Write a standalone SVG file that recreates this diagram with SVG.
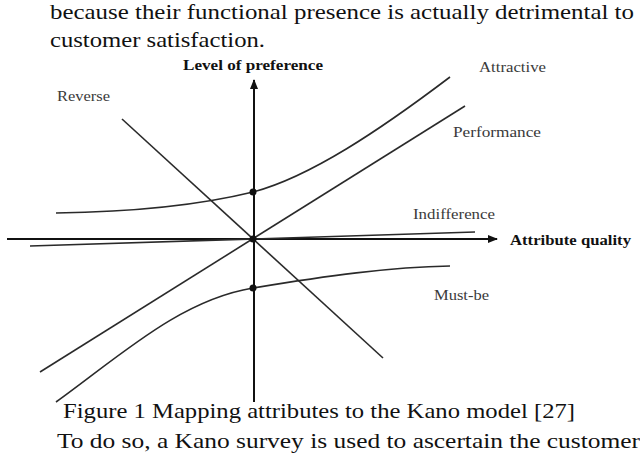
<svg xmlns="http://www.w3.org/2000/svg" width="640" height="466" viewBox="0 0 640 466">
<style>
.txt{font-family:"Liberation Serif","DejaVu Serif",serif;font-size:22px;fill:#111}
.lbl{font-family:"Liberation Serif","DejaVu Serif",serif;font-size:15px;fill:#3a3a3a}
.ax{font-family:"Liberation Serif","DejaVu Serif",serif;font-size:15px;font-weight:bold;fill:#111}
.axis{stroke:#111;stroke-width:2;fill:none}
.ln{stroke:#2a2a2a;stroke-width:1.6;fill:none}
.dot{fill:#111}
</style>
<defs>
<marker id="ah" viewBox="0 0 10 10" refX="9" refY="5" markerWidth="5" markerHeight="5" orient="auto" markerUnits="strokeWidth">
<path d="M0,1 L10,5 L0,9 z" fill="#111"/>
</marker>
</defs>
<rect width="640" height="466" fill="#fff"/>
<text class="txt" x="50" y="19" textLength="584" lengthAdjust="spacingAndGlyphs">because their functional presence is actually detrimental to</text>
<text class="txt" x="50" y="47" textLength="215" lengthAdjust="spacingAndGlyphs">customer satisfaction.</text>
<g id="connectors">
<path class="axis" d="M254,402 L254,80" marker-end="url(#ah)"/>
<path class="axis" d="M7,239 L497,239" marker-end="url(#ah)"/>
<path class="ln" d="M30,246 L475,232"/>
<path class="ln" d="M122,119 L383,358"/>
<path class="ln" d="M40,372 L465,106"/>
<path class="ln" d="M56,213 C130,212 200,205 253,192 C310,177 380,130 450,77"/>
<path class="ln" d="M56,402 C120,356 180,300 253,288 S390,267 450,266"/>
</g>
<g id="dots">
<circle class="dot" cx="253" cy="239" r="3.5"/>
<circle class="dot" cx="253" cy="192" r="3.5"/>
<circle class="dot" cx="253" cy="288" r="3.5"/>
</g>
<g id="axis-y"><text class="ax" x="183" y="70" textLength="140" lengthAdjust="spacingAndGlyphs">Level of preference</text></g>
<g id="axis-x"><text class="ax" x="510" y="245" textLength="121" lengthAdjust="spacingAndGlyphs">Attribute quality</text></g>
<g id="attractive"><text class="lbl" x="479" y="72" textLength="67" lengthAdjust="spacingAndGlyphs">Attractive</text></g>
<g id="reverse"><text class="lbl" x="57" y="101" textLength="53" lengthAdjust="spacingAndGlyphs">Reverse</text></g>
<g id="performance"><text class="lbl" x="453" y="137" textLength="88" lengthAdjust="spacingAndGlyphs">Performance</text></g>
<g id="indifference"><text class="lbl" x="413" y="219" textLength="82" lengthAdjust="spacingAndGlyphs">Indifference</text></g>
<g id="mustbe"><text class="lbl" x="434" y="300" textLength="55" lengthAdjust="spacingAndGlyphs">Must-be</text></g>
<text class="txt" x="63" y="418" textLength="512" lengthAdjust="spacingAndGlyphs">Figure 1 Mapping attributes to the Kano model [27]</text>
<text class="txt" x="57" y="448" textLength="583" lengthAdjust="spacingAndGlyphs">To do so, a Kano survey is used to ascertain the customer</text>
</svg>
